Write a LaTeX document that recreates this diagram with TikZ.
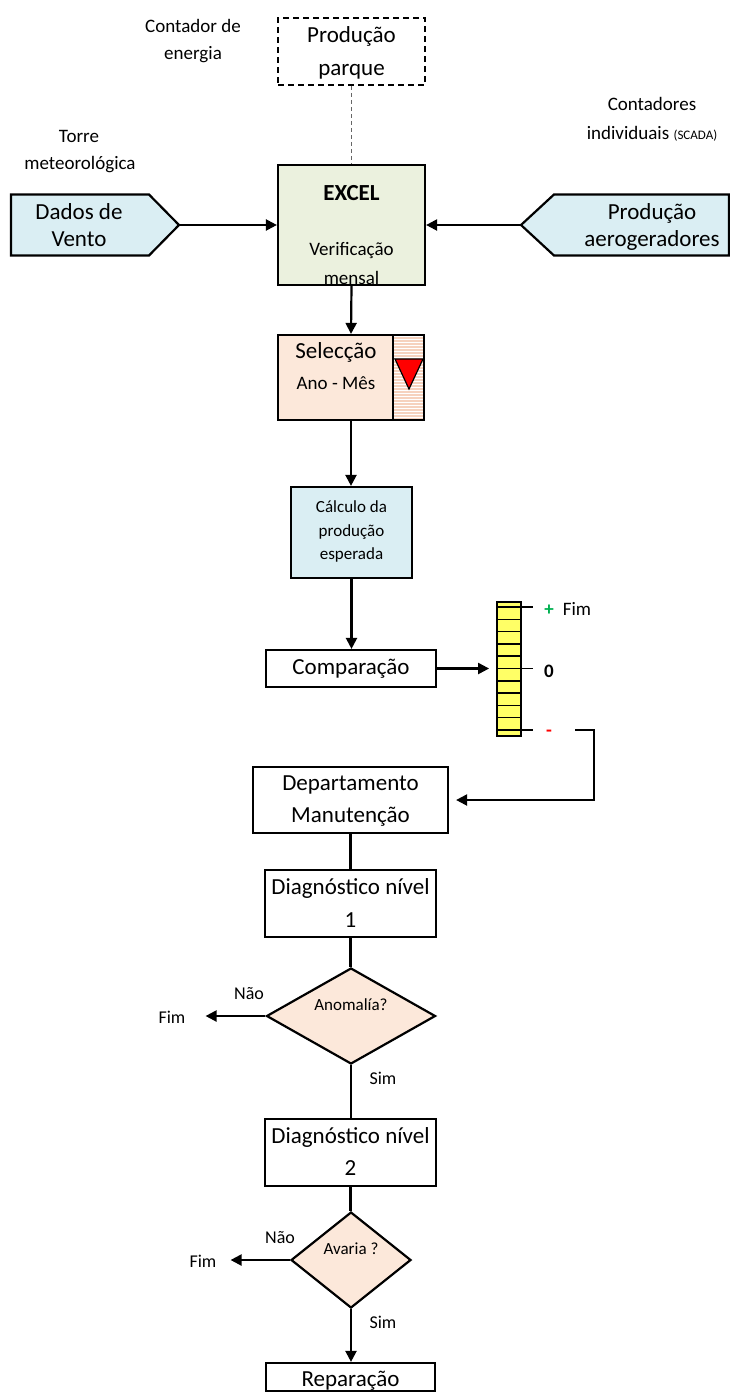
\documentclass[tikz,border=0pt]{standalone}
\usepackage{fontspec}
\setmainfont{Carlito}
\usetikzlibrary{arrows.meta,shapes.geometric,calc}
\definecolor{bluefill}{HTML}{DAEEF3}
\definecolor{greenfill}{HTML}{EBF1DE}
\definecolor{peach}{HTML}{FCE8DA}
\definecolor{stripe}{HTML}{F6D2BE}
\definecolor{baryellow}{HTML}{FFFF66}
\definecolor{plusgreen}{HTML}{00B050}
\begin{document}
\begin{tikzpicture}[x=1pt,y=-1pt,
  box/.style={draw=black,line width=2.2pt,inner sep=0pt},
  conn/.style={line width=2.2pt},
  arr/.style={line width=2.2pt,-{Triangle[length=11pt,width=11pt]}},
  big/.style={inner sep=0pt,anchor=mid,yshift=-5pt,font=\fontsize{23}{28}\selectfont},
  mid/.style={inner sep=0pt,anchor=mid,yshift=-5pt,font=\fontsize{19}{23}\selectfont},
  sml/.style={inner sep=0pt,anchor=mid,yshift=-4pt,font=\fontsize{17}{21}\selectfont},
  lbl/.style={inner sep=0pt,anchor=mid,yshift=-5pt,font=\fontsize{18}{22}\selectfont}]
\useasboundingbox (0,0) rectangle (730,1392);

% --- top: park production (dashed)
\node[box,line width=1.6pt,dash pattern=on 6pt off 4pt,minimum width=147,minimum height=67] (parque) at (351.5,51.5) {};
\node[big] (tp1) at (351.5,35) {Produção};
\node[big] (tp2) at (351.5,68) {parque};
\node[mid] (tce1) at (193,25) {Contador de};
\node[mid] (tce2) at (193,52) {energia};

% --- EXCEL
\node[box,fill=greenfill,minimum width=147,minimum height=120] (excel) at (351.5,225) {};
\node[big,font=\fontsize{23}{28}\selectfont\bfseries] (tex1) at (351.5,193) {EXCEL};
\node[mid] (tex2) at (351.5,248) {Verificação};
\node[mid] (tex3) at (351.5,277) {mensal};
\draw[line width=1.1pt,black!60,dash pattern=on 4pt off 3pt] (parque.south) -- (excel.north);

% --- Dados de Vento
\draw[line width=2.2pt,fill=bluefill] (11,194.5) -- (149,194.5) -- (179,225) -- (149,255.5) -- (11,255.5) -- cycle;
\coordinate (dvtip) at (179,225);
\node[big] (tdv1) at (79,212) {Dados de};
\node[big] (tdv2) at (79,239) {Vento};
\node[mid] (ttm1) at (79,135) {Torre};
\node[mid] (ttm2) at (80,162) {meteorológica};
\draw[arr] (dvtip) -- (excel.west);

% --- Produção aerogeradores
\draw[line width=2.2pt,fill=bluefill] (729,194.5) -- (554,194.5) -- (521,225) -- (554,255.5) -- (729,255.5) -- cycle;
\coordinate (patip) at (521,225);
\node[big] (tpa1) at (652,212) {Produção};
\node[big] (tpa2) at (652,239) {aerogeradores};
\node[mid] (tci1) at (652,103) {Contadores};
\node[mid] (tci2) at (652,132) {individuais {\fontsize{13}{16}\selectfont(SCADA)}};
\draw[arr] (patip) -- (excel.east);

% --- Selecção
\node[box,fill=peach,minimum width=146,minimum height=85] (selec) at (351,377.5) {};
\begin{scope}
  \clip (393,336) rectangle (423,419);
  \fill[stripe] (393,336) rectangle (423,419);
  \foreach \yy in {336,339,...,420} \draw[white,line width=1pt] (393,\yy) -- (423,\yy);
\end{scope}
\draw[line width=2.2pt] (393,335) -- (393,420);
\draw[line width=1.2pt,fill=red] (395,359) -- (423,359) -- (409,389) -- cycle;
\node[big] (tse1) at (336,351) {Selecção};
\node[mid] (tse2) at (336,382) {Ano - Mês};
\draw[arr] (excel.south) -- (selec.north);

% --- Cálculo
\node[box,fill=bluefill,minimum width=121,minimum height=91] (calc) at (351.5,532.5) {};
\node[sml] (tca1) at (351.5,506) {Cálculo da};
\node[sml] (tca2) at (351.5,530) {produção};
\node[sml] (tca3) at (351.5,553) {esperada};
\draw[arr] (selec.south) -- (selec.south |- calc.north);

% --- Comparação
\node[box,minimum width=170,minimum height=37] (comp) at (351,668.5) {};
\node[big] (tco) at (351,667) {Comparação};
\draw[arr] (calc.south) -- (calc.south |- comp.north);

% --- gauge bar
\node[draw=black,line width=1.8pt,fill=baryellow,minimum width=24,minimum height=134,inner sep=0pt] (bar) at (509,669) {};
\foreach \k in {0,...,10} {
  \pgfmathsetmacro{\yy}{607+12.3*\k}
  \draw[line width=1.5pt] (497,\yy) -- (521,\yy);
}
\draw[line width=1.5pt] (521,607) -- (533,607);
\draw[line width=1.5pt] (521,668.5) -- (533,668.5);
\draw[line width=1.5pt] (521,730) -- (533,730);
\node[mid,text=plusgreen,font=\fontsize{19}{23}\selectfont\bfseries] (tplus) at (549,608) {+};
\node[mid] (tfim0) at (577,608) {Fim};
\node[mid,font=\fontsize{19}{23}\selectfont\bfseries] (tzero) at (549,670) {0};
\node[mid,text=red,font=\fontsize{19}{23}\selectfont\bfseries] (tminus) at (549,729) {-};
\draw[arr,shorten >=7pt] (comp.east) -- (comp.east -| bar.west);

% --- Departamento
\node[box,minimum width=195,minimum height=66] (dept) at (350.5,800) {};
\node[big] (tde1) at (350.5,783) {Departamento};
\node[big] (tde2) at (350.5,815) {Manutenção};
\coordinate (mstart) at (575,730);
\coordinate (mcorner) at (594,730);
\draw[arr,shorten >=7pt] (mstart) -- (mcorner) |- (dept.east);

% --- Diagnóstico 1
\node[box,minimum width=171,minimum height=67] (diag1) at (350.5,903.5) {};
\node[big] (td11) at (350.5,887) {Diagnóstico nível};
\node[big] (td12) at (350.5,920) {1};
\draw[conn] (dept.south) -- (dept.south |- diag1.north);

% --- Anomalía?
\node[diamond,draw=black,line width=2.2pt,fill=peach,minimum width=169,minimum height=96,inner sep=0pt] (dia1) at (351,1016) {};
\node[sml] (tan) at (351,1004) {Anomalía?};
\draw[conn] (diag1.south) -- (diag1.south |- dia1.north);
\node[lbl] (tnao1) at (249,992) {Não};
\node[lbl] (tfim1) at (172,1016) {Fim};
\draw[arr] (dia1.west) -- ($(dia1.west -| tfim1.east)+(20,0)$);
\node[lbl] (tsim1) at (383,1077) {Sim};

% --- Diagnóstico 2
\node[box,minimum width=171,minimum height=67] (diag2) at (350.5,1152.5) {};
\node[big] (td21) at (350.5,1136) {Diagnóstico nível};
\node[big] (td22) at (350.5,1168) {2};
\draw[conn] (dia1.south) -- (dia1.south |- diag2.north);

% --- Avaria ?
\node[diamond,draw=black,line width=2.2pt,fill=peach,minimum width=120,minimum height=96,inner sep=0pt] (dia2) at (351,1260) {};
\node[sml] (tav) at (351,1248) {Avaria ?};
\draw[conn] (diag2.south) -- (diag2.south |- dia2.north);
\node[lbl] (tnao2) at (280,1236) {Não};
\node[lbl] (tfim2) at (203,1260) {Fim};
\draw[arr] (dia2.west) -- ($(dia2.west -| tfim2.east)+(14,0)$);
\node[lbl] (tsim2) at (383,1321) {Sim};

% --- Reparação
\node[box,minimum width=169,minimum height=28] (repar) at (350.5,1377) {};
\node[big] (tre) at (350.5,1379) {Reparação};
\draw[arr] (dia2.south) -- (dia2.south |- repar.north);
\end{tikzpicture}
\end{document}
